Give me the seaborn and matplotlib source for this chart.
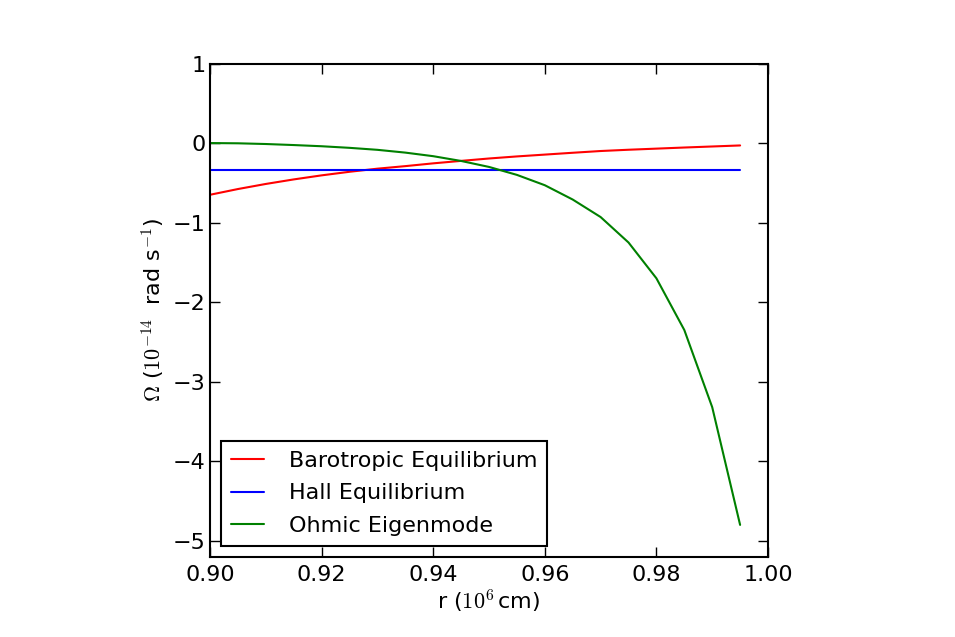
import numpy as np
import pandas as pd
import matplotlib
matplotlib.use("Agg")
import matplotlib.pyplot as plt
import seaborn as sns

r = [0.900, 0.905, 0.910, 0.915, 0.920, 0.925, 0.930, 0.935, 0.940, 0.945,
     0.950, 0.955, 0.960, 0.965, 0.970, 0.975, 0.980, 0.985, 0.990, 0.995]
barotropic = [-0.65, -0.578, -0.514, -0.457, -0.406, -0.361, -0.322, -0.290, -0.255, -0.224,
              -0.194, -0.168, -0.145, -0.122, -0.100, -0.084, -0.070, -0.056, -0.043, -0.030]
hall = [-0.333] * len(r)
ohmic = [0.0, -0.003, -0.012, -0.025, -0.04, -0.06, -0.085, -0.12, -0.165, -0.225,
         -0.30, -0.40, -0.53, -0.71, -0.93, -1.25, -1.70, -2.35, -3.32, -4.80]
labels = ["Barotropic Equilibrium", "Hall Equilibrium", "Ohmic Eigenmode"]
colors = ["#ff0000", "#0000ff", "#008000"]
xticks = [0.90, 0.92, 0.94, 0.96, 0.98, 1.00]
yticks = [1, 0, -1, -2, -3, -4, -5]

sns.set_style("ticks")
plt.rcParams["font.family"] = ["DejaVu Sans"]
plt.rcParams["mathtext.fontset"] = "cm"
plt.rcParams["mathtext.default"] = "rm"
plt.rcParams["text.color"] = "black"
plt.rcParams["axes.labelcolor"] = "black"

df = pd.DataFrame({
    "r": r * 3,
    "omega": barotropic + hall + ohmic,
    "series": [labels[0]] * len(r) + [labels[1]] * len(r) + [labels[2]] * len(r),
})

fig = plt.figure(figsize=(9.55, 6.37), dpi=100)
ax = fig.add_axes([0.2199, 0.126, 0.5843, 0.7743])
sns.lineplot(data=df, x="r", y="omega", hue="series", hue_order=labels,
             palette=dict(zip(labels, colors)), linewidth=1.5, ax=ax, sort=False)

ax.set_xlim(0.90, 1.00)
ax.set_ylim(-5.2, 1.0)
ax.set_xticks(xticks)
ax.set_xticklabels([f"{v:.2f}" for v in xticks])
ax.set_yticks(yticks)
ax.set_yticklabels([f"{v}".replace("-", "\u2212") for v in yticks])
ax.tick_params(direction="in", length=7, width=1, labelsize=16, top=True, right=True,
               colors="black")
ax.tick_params(axis="x", pad=6)
ax.tick_params(axis="y", pad=3)
for s in ax.spines.values():
    s.set_linewidth(1.5)
    s.set_color("black")
    s.set_visible(True)

ax.set_xlabel(r"r ($10^6\,$cm)", fontsize=16, labelpad=2)
ax.set_ylabel(r"$\Omega$ ($10^{-14}\ $ rad s$^{-1}$)", fontsize=16, labelpad=4)

leg = ax.legend(loc="lower left", fontsize=16, frameon=True, fancybox=False,
                borderpad=0.45, handlelength=1.5, handletextpad=1.1,
                labelspacing=0.55, borderaxespad=0.5)
leg.get_frame().set_edgecolor("black")
leg.get_frame().set_linewidth(1.5)
leg.get_frame().set_alpha(1)

fig.savefig("out.png", dpi=100)
